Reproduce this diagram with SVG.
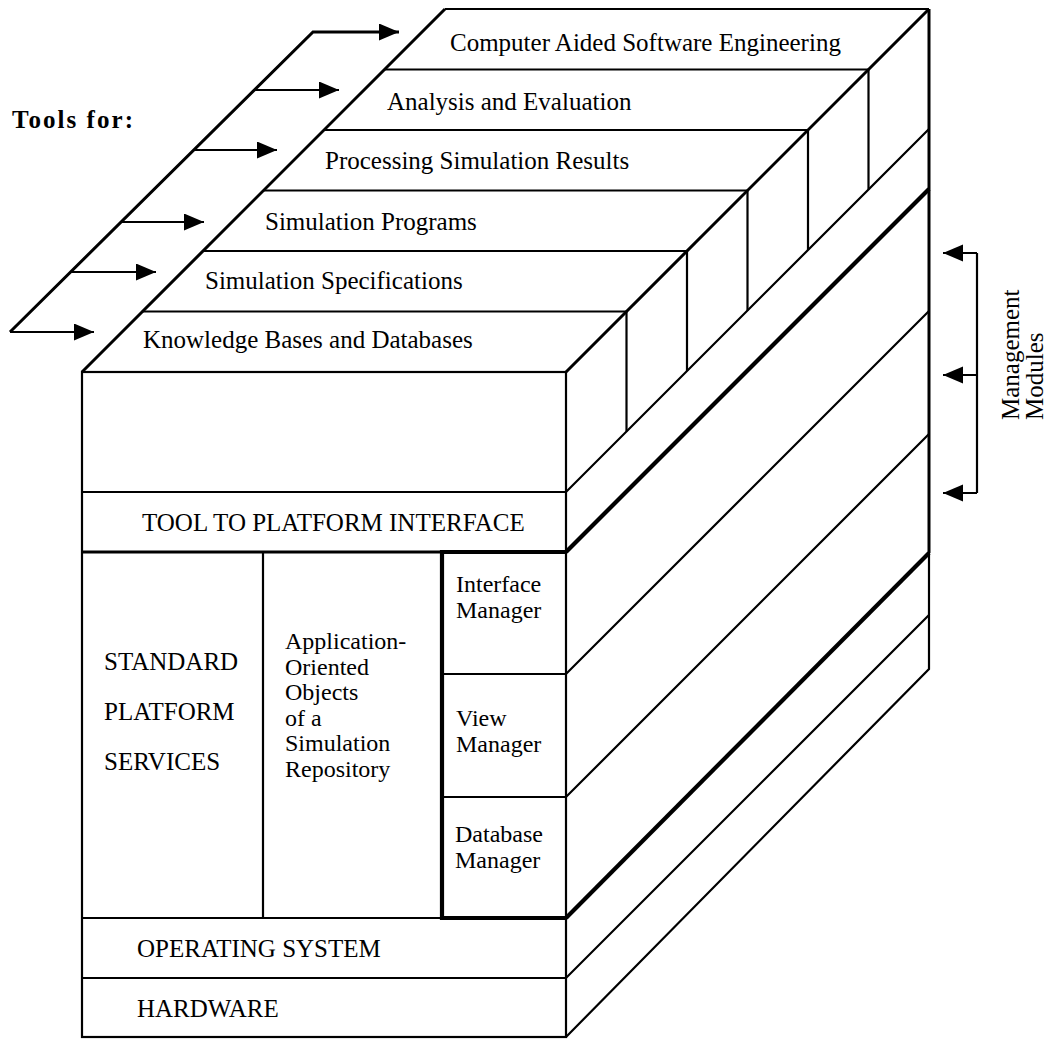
<svg xmlns="http://www.w3.org/2000/svg" width="1058" height="1040" viewBox="0 0 1058 1040">
<style>
 .l{stroke:#000;stroke-width:2.2;fill:none}
 .m{stroke:#000;stroke-width:3;fill:none}
 .t{stroke:#000;stroke-width:4.2;fill:none}
 text{font-family:"Liberation Serif","Times New Roman",serif;font-size:25px;fill:#000}
 .s{font-size:24px}
 .b{font-weight:bold}
</style>
<defs>
 <marker id="ah" markerUnits="userSpaceOnUse" markerWidth="22" markerHeight="18" refX="20" refY="8.5" orient="auto">
  <path d="M0,0 L20,8.5 L0,17 z" fill="#000"/>
 </marker>
</defs>
<rect width="1058" height="1040" fill="#fff"/>

<g id="box-frame">
 <rect class="l" x="82" y="372" width="484" height="665"/>
 <path class="m" d="M82,372 L445,9"/>
 <path class="l" d="M445,9 H929"/>
 <path class="m" d="M566,372 L929,9"/>
 <path class="m" d="M929,9 V553"/>
 <path class="l" d="M929,553 V669 L566,1037"/>
</g>

<g id="tool-case">
 <text x="450" y="51">Computer Aided Software Engineering</text>
 <path class="l" d="M384.5,69.5 H868.5 V189.5"/>
</g>
<g id="tool-analysis">
 <text x="387" y="110">Analysis and Evaluation</text>
 <path class="l" d="M324,130 H808 V250"/>
</g>
<g id="tool-processing">
 <text x="325" y="169">Processing Simulation Results</text>
 <path class="l" d="M263.5,190.5 H747.5 V310.5"/>
</g>
<g id="tool-programs">
 <text x="265" y="230">Simulation Programs</text>
 <path class="l" d="M203,251 H687 V371"/>
</g>
<g id="tool-specifications">
 <text x="205" y="289">Simulation Specifications</text>
 <path class="l" d="M142.5,311.5 H626.5 V431.5"/>
</g>
<g id="tool-knowledge">
 <text x="143" y="348">Knowledge Bases and Databases</text>
</g>

<g id="tools-label">
 <text class="b" x="12" y="128" textLength="121" lengthAdjust="spacing">Tools  for:</text>
</g>

<g id="tool-to-platform-interface">
 <path class="l" d="M82,492 H566 L929,129"/>
 <text x="142" y="531">TOOL TO PLATFORM INTERFACE</text>
</g>
<g id="layer-divider-top">
 <path class="m" d="M82,552 H442"/>
 <path class="t" d="M566,552 L929,189"/>
</g>

<g id="standard-platform-services">
 <text x="104" y="670">STANDARD</text>
 <text x="104" y="720">PLATFORM</text>
 <text x="104" y="770">SERVICES</text>
 <path class="l" d="M263,552 V918"/>
</g>

<g id="application-objects">
 <text class="s" x="285" y="649">Application-</text>
 <text class="s" x="285" y="674.5">Oriented</text>
 <text class="s" x="285" y="700">Objects</text>
 <text class="s" x="285" y="725.5">of a</text>
 <text class="s" x="285" y="751">Simulation</text>
 <text class="s" x="285" y="776.5">Repository</text>
</g>

<g id="management-column">
 <path class="t" d="M566,552 H442 V918 H566"/>
 <path class="l" d="M442,674 H566 L929,311"/>
 <path class="l" d="M442,797 H566 L929,434"/>
 <path class="t" d="M566,918 L929,553"/>
</g>
<g id="interface-manager">
 <text class="s" x="456" y="592">Interface</text>
 <text class="s" x="456" y="618">Manager</text>
</g>
<g id="view-manager">
 <text class="s" x="456" y="726">View</text>
 <text class="s" x="456" y="752">Manager</text>
</g>
<g id="database-manager">
 <text class="s" x="455" y="842">Database</text>
 <text class="s" x="455" y="868">Manager</text>
</g>

<g id="operating-system">
 <path class="l" d="M82,918 H442"/>
 <text x="137" y="957">OPERATING SYSTEM</text>
</g>
<g id="hardware">
 <path class="l" d="M82,978 H566 L929,615"/>
 <text x="137" y="1017">HARDWARE</text>
</g>

<g id="management-label">
 <text transform="translate(1019,420) rotate(-90)">Management</text>
 <text transform="translate(1043,420) rotate(-90)">Modules</text>
</g>

<g id="connectors">
 <path class="m" d="M10,332 L313,32 H399" marker-end="url(#ah)"/>
 <path class="l" d="M10,332 H94" marker-end="url(#ah)"/>
 <path class="l" d="M70,272 H156" marker-end="url(#ah)"/>
 <path class="l" d="M121,222 H204" marker-end="url(#ah)"/>
 <path class="l" d="M194,150 H277" marker-end="url(#ah)"/>
 <path class="l" d="M254,90 H339" marker-end="url(#ah)"/>
 <path class="l" d="M977,253 V493"/>
 <path class="l" d="M977,253 H943" marker-end="url(#ah)"/>
 <path class="l" d="M977,375 H943" marker-end="url(#ah)"/>
 <path class="l" d="M977,493 H943" marker-end="url(#ah)"/>
</g>
</svg>
